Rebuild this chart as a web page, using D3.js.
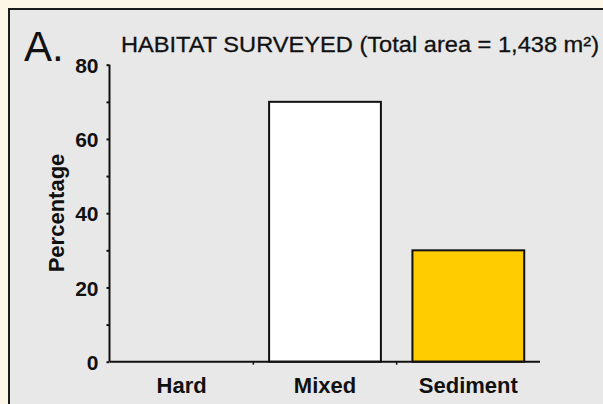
<!DOCTYPE html>
<html>
<head>
<meta charset="utf-8">
<script src="https://cdn.jsdelivr.net/npm/d3@7"></script>
<style>
  html, body { margin: 0; padding: 0; background: #fdf6e7; }
  svg { display: block; }
  text { font-family: "Liberation Sans", Arial, sans-serif; fill: #111; }
</style>
</head>
<body>
<svg id="chart" width="603" height="404"></svg>
<script>
// Habitat surveyed, percentage of total area by habitat type
const categories = ["Hard", "Mixed", "Sediment"];
const percentages = [0, 70, 30];
const barColors = ["#ffffff", "#ffffff", "#ffcc00"];
const yTickValues = [0, 10, 20, 30, 40, 50, 60, 70, 80];
const yTickLabels = ["0", "20", "40", "60", "80"];
const titleText = "HABITAT SURVEYED (Total area = 1,438 m²)";
const panelLabel = "A.";
const yAxisTitle = "Percentage";

const svg = d3.select("#chart");

// Grey panel with a dark frame running off the right and bottom edges
svg.append("rect")
  .attr("x", 9).attr("y", 9)
  .attr("width", 640).attr("height", 440)
  .attr("fill", "#e8e8e8")
  .attr("stroke", "#1a1a1a")
  .attr("stroke-width", 2);

const x = d3.scaleBand()
  .domain(categories)
  .range([110, 540])
  .paddingInner(0.22)
  .paddingOuter(0.11);

const y = d3.scaleLinear()
  .domain([0, 80])
  .range([361.7, 64.7]);

// Bars
svg.append("g").selectAll("rect")
  .data(categories)
  .join("rect")
  .attr("x", d => x(d))
  .attr("y", (d, i) => y(percentages[i]))
  .attr("width", x.bandwidth())
  .attr("height", (d, i) => y(0) - y(percentages[i]))
  .attr("fill", (d, i) => barColors[i])
  .attr("stroke", "#111")
  .attr("stroke-width", 2)
  .attr("display", (d, i) => percentages[i] > 0 ? null : "none");

// Y axis: short ticks every 10, labels every 20
const yAxis = d3.axisLeft(y)
  .tickValues(yTickValues)
  .tickSize(3)
  .tickFormat(d => yTickLabels.includes(String(d)) ? String(d) : "");
const gy = svg.append("g")
  .attr("transform", "translate(109.5,0)")
  .call(yAxis);
gy.select(".domain").attr("stroke", "#111").attr("stroke-width", 2)
  .attr("d", `M0,${y(80)}V${y(0)}`);
gy.selectAll(".tick line").attr("stroke", "#111").attr("stroke-width", 2);
gy.selectAll(".tick text")
  .attr("x", -11)
  .attr("dy", "0.36em")
  .style("font-size", "21px")
  .style("font-weight", "bold")
  .style("font-family", "'Liberation Sans', Arial, sans-serif")
  .attr("fill", "#111");

// X axis baseline with small ticks between categories
const xBase = svg.append("g");
xBase.append("line")
  .attr("x1", 110).attr("x2", 540)
  .attr("y1", y(0)).attr("y2", y(0))
  .attr("stroke", "#111").attr("stroke-width", 2);
const step = x.step();
const boundaries = categories.slice(1).map(d => x(d) - step * x.paddingInner() / 2);
xBase.selectAll(".xtick")
  .data(boundaries)
  .join("line")
  .attr("class", "xtick")
  .attr("x1", d => d).attr("x2", d => d)
  .attr("y1", y(0)).attr("y2", y(0) + 3)
  .attr("stroke", "#111").attr("stroke-width", 1.5);

// Category labels
svg.append("g").selectAll("text")
  .data(categories)
  .join("text")
  .attr("x", d => x(d) + x.bandwidth() / 2)
  .attr("y", 392.5)
  .attr("text-anchor", "middle")
  .style("font-size", "22px")
  .style("font-weight", "bold")
  .text(d => d);

// Y axis title
svg.append("text")
  .attr("transform", "translate(64,213) rotate(-90)")
  .attr("text-anchor", "middle")
  .style("font-size", "22px")
  .style("font-weight", "bold")
  .text(yAxisTitle);

// Chart title
svg.append("text")
  .attr("x", 121)
  .attr("y", 51.5)
  .attr("textLength", 478)
  .attr("lengthAdjust", "spacingAndGlyphs")
  .style("font-size", "22.5px")
  .style("stroke", "#111")
  .style("stroke-width", 0.3)
  .text(titleText);

// Panel letter
svg.append("text")
  .attr("x", 24)
  .attr("y", 60.5)
  .style("font-size", "42px")
  .text(panelLabel);
</script>
</body>
</html>
